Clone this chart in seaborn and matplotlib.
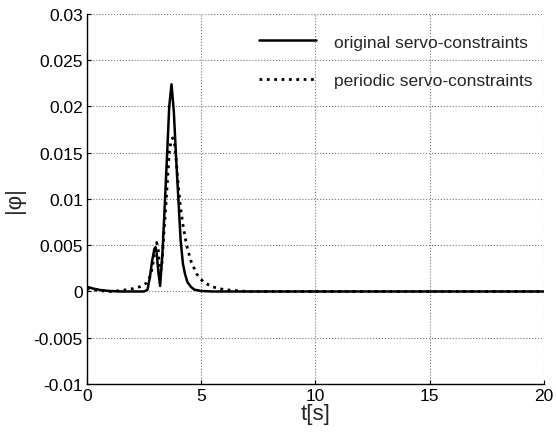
import matplotlib
matplotlib.use("Agg")
import matplotlib.pyplot as plt
import seaborn as sns
import numpy as np

# values
t_orig = [0, 0.3, 0.6, 1.0, 1.5, 2.0, 2.5, 2.65, 2.75, 2.85, 2.95, 3.0, 3.05,
          3.12, 3.2, 3.3, 3.41, 3.51, 3.6, 3.7, 3.8, 3.9, 4.0, 4.1, 4.2, 4.29,
          4.4, 4.55, 4.7, 5.0, 5.5, 6, 8, 10, 15, 20]
phi_orig = [0.0005, 0.0003, 0.00015, 0.00005, 0.0, 0.0, 0.0, 0.0002, 0.0015,
            0.0033, 0.0046, 0.0048, 0.0042, 0.0022, 0.0006, 0.0040, 0.0096,
            0.0150, 0.0200, 0.0224, 0.0195, 0.0145, 0.0100, 0.0055, 0.0030,
            0.0019, 0.0010, 0.0005, 0.0002, 0.00005, 0, 0, 0, 0, 0, 0]

t_per = [0, 0.5, 1.0, 1.5, 2.0, 2.3, 2.6, 2.8, 2.9, 3.0, 3.05, 3.12, 3.2,
         3.28, 3.36, 3.46, 3.6, 3.68, 3.75, 3.82, 3.88, 3.96, 4.07, 4.2, 4.36,
         4.55, 4.8, 5.1, 5.5, 6.0, 6.5, 7, 10, 15, 20]
phi_per = [0.0003, 0.0001, 0.0, 0.0001, 0.0003, 0.0005, 0.0009, 0.0018,
           0.0032, 0.0048, 0.0053, 0.0045, 0.0018, 0.0030, 0.0060, 0.0096,
           0.0150, 0.0163, 0.0166, 0.0162, 0.0150, 0.0125, 0.0096, 0.0072,
           0.0050, 0.0033, 0.0019, 0.0010, 0.0005, 0.0002, 0.0001, 0, 0, 0, 0]

labels = ["original servo-constraints", "periodic servo-constraints"]
x_ticks = [0, 5, 10, 15, 20]
y_ticks = [-0.01, -0.005, 0, 0.005, 0.01, 0.015, 0.02, 0.025, 0.03]
y_ticklabels = ["-0.01", "-0.005", "0", "0.005", "0.01", "0.015", "0.02",
                "0.025", "0.03"]

sns.set_style("ticks")
plt.rcParams["font.family"] = ["Liberation Sans", "DejaVu Sans"]
plt.rcParams["axes.unicode_minus"] = False

fig = plt.figure(figsize=(5.56, 4.35), dpi=100)
ax = fig.add_axes([0.1565, 0.115, 0.8215, 0.8505])

sns.lineplot(x=t_orig, y=phi_orig, ax=ax, color="black", linewidth=1.8,
             label=labels[0])
sns.lineplot(x=t_per, y=phi_per, ax=ax, color="black", linewidth=2.0,
             linestyle=":", label=labels[1])

ax.set_xlim(0, 20)
ax.set_ylim(-0.01, 0.03)
ax.set_xticks(x_ticks)
ax.set_xticklabels([str(v) for v in x_ticks])
ax.set_yticks(y_ticks)
ax.set_yticklabels(y_ticklabels)
ax.tick_params(direction="in", length=3, labelsize=12.5, colors="black", pad=3)

ax.grid(True, linestyle=":", color="#777777", linewidth=0.8)
ax.spines["top"].set_visible(False)
ax.spines["right"].set_visible(False)
for s in ["left", "bottom"]:
    ax.spines[s].set_color("black")
    ax.spines[s].set_linewidth(1.0)

ax.set_xlabel("t[s]", fontsize=16, labelpad=0)
ax.set_ylabel("|φ|", fontsize=16, labelpad=6)

ax.legend(loc="upper right", bbox_to_anchor=(0.975, 0.945), frameon=False,
          fontsize=12.5, handlelength=3.3, handletextpad=1.0,
          labelspacing=1.35, borderpad=0, borderaxespad=0)

plt.savefig("out.png", dpi=100)
